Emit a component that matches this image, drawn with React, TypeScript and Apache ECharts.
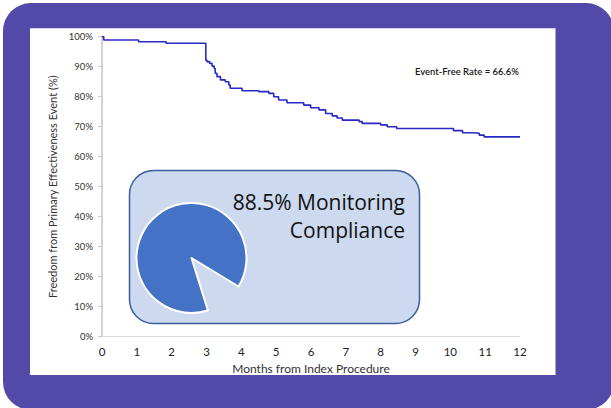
import React, { useEffect, useRef } from "react";
import * as echarts from "echarts";

// Kaplan-Meier step points: months and freedom from event (%)
const months = [0, 0.05, 1.05, 1.84, 2.98, 3.01, 3.09, 3.16, 3.22, 3.25, 3.3, 3.4, 3.54, 3.64, 3.68, 4.02, 4.5, 4.79, 4.93, 5.07, 5.31, 5.79, 5.99, 6.23, 6.42, 6.61, 6.75, 6.9, 7.38, 7.47, 8.0, 8.19, 8.46, 10.09, 10.35, 10.64, 10.83, 10.97, 12];
const survival = [100, 98.9, 98.3, 97.8, 92.2, 91.7, 91.1, 90.2, 89.4, 87.8, 86.7, 85.6, 85, 83.9, 82.8, 82, 81.7, 81.1, 80, 78.9, 78, 77.2, 76.3, 75.6, 74.4, 73.6, 72.9, 72.2, 71.7, 71.1, 70.6, 70, 69.4, 68.7, 68, 67.8, 67.2, 66.6, 66.6];

const compliance = [
  { name: "Compliant", value: 88.5 },
  { name: "Non-compliant", value: 11.5 },
];

const eventFreeLabel = "Event-Free Rate = 66.6%";
const boxLine1 = "88.5% Monitoring";
const boxLine2 = "Compliance";
const xName = "Months from Index Procedure";
const yName = "Freedom from Primary Effectiveness Event (%)";

const FONT = "Lato, 'DejaVu Sans', sans-serif";

export default function App() {
  const ref = useRef<HTMLDivElement>(null);

  useEffect(() => {
    document.body.style.margin = "0";
    if (!ref.current) return;
    const chart = echarts.init(ref.current, null, { renderer: "svg" });
    const option: any = {
      animation: false,
      backgroundColor: "#ffffff",
      grid: { left: 102, right: 91, top: 36.7, bottom: 71.3 },
      xAxis: {
        type: "value",
        min: 0,
        max: 12,
        interval: 1,
        name: xName,
        nameLocation: "middle",
        nameGap: 23,
        nameTextStyle: { fontFamily: FONT, fontSize: 12, color: "#333" },
        axisLine: { show: true, lineStyle: { color: "#dcdcdc", width: 1 } },
        axisTick: { show: false },
        splitLine: { show: false },
        axisLabel: { fontFamily: FONT, fontSize: 11.5, color: "#222", margin: 9 },
      },
      yAxis: {
        type: "value",
        min: 0,
        max: 100,
        interval: 10,
        name: yName,
        nameLocation: "middle",
        nameGap: 44,
        nameTextStyle: { fontFamily: FONT, fontSize: 11, color: "#333" },
        axisLine: { show: true, lineStyle: { color: "#c4c4c4", width: 1.5 } },
        axisTick: { show: true, length: 4, lineStyle: { color: "#c8c8c8" } },
        splitLine: { show: false },
        axisLabel: {
          fontFamily: FONT,
          fontSize: 9.5,
          color: "#333",
          margin: 9,
          formatter: "{value}%",
        },
      },
      graphic: [
        {
          type: "rect",
          z: -10,
          silent: true,
          shape: { x: 3, y: 3, width: 611, height: 407, r: 28 },
          style: { fill: "#5349A8" },
        },
        {
          type: "rect",
          z: -9,
          silent: true,
          shape: { x: 30, y: 28.3, width: 525.5, height: 346.7 },
          style: { fill: "#ffffff" },
        },
        {
          type: "rect",
          z: 0,
          silent: true,
          shape: { x: 129.5, y: 170.5, width: 290, height: 153, r: 24 },
          style: { fill: "#CDD9EF", stroke: "#3A5E9E", lineWidth: 1.5 },
        },
        {
          type: "text",
          z: 1,
          silent: true,
          x: 405,
          y: 201.7,
          style: {
            text: boxLine1,
            fontFamily: "'Open Sans', sans-serif",
            fontSize: 21,
            fill: "#111",
            textAlign: "right",
            textVerticalAlign: "middle",
          },
        },
        {
          type: "text",
          z: 1,
          silent: true,
          x: 405,
          y: 230,
          style: {
            text: boxLine2,
            fontFamily: "'Open Sans', sans-serif",
            fontSize: 21,
            fill: "#111",
            textAlign: "right",
            textVerticalAlign: "middle",
          },
        },
        {
          type: "text",
          z: 1,
          silent: true,
          x: 519,
          y: 71.7,
          style: {
            text: eventFreeLabel,
            fontFamily: FONT,
            fontSize: 9.5,
            fontWeight: 600,
            fill: "#1a1a1a",
            textAlign: "right",
            textVerticalAlign: "middle",
          },
        },
      ],
      series: [
        {
          type: "line",
          step: "end",
          symbol: "none",
          data: months.map((m, i) => [m, survival[i]]),
          lineStyle: { color: "#2828C6", width: 1.6 },
          z: 3,
        },
        {
          type: "pie",
          silent: true,
          center: [191.5, 258],
          radius: 55,
          startAngle: 287.4,
          clockwise: true,
          label: { show: false },
          labelLine: { show: false },
          z: 5,
          data: [
            {
              ...compliance[0],
              itemStyle: { color: "#4472C4", borderColor: "#ffffff", borderWidth: 2 },
            },
            {
              ...compliance[1],
              itemStyle: { color: "rgba(0,0,0,0)", borderWidth: 0 },
            },
          ],
        },
      ],
    };
    chart.setOption(option);
    return () => chart.dispose();
  }, []);

  return (
    <div
      ref={ref}
      style={{ position: "absolute", left: 0, top: 0, width: 611, height: 408 }}
    />
  );
}
